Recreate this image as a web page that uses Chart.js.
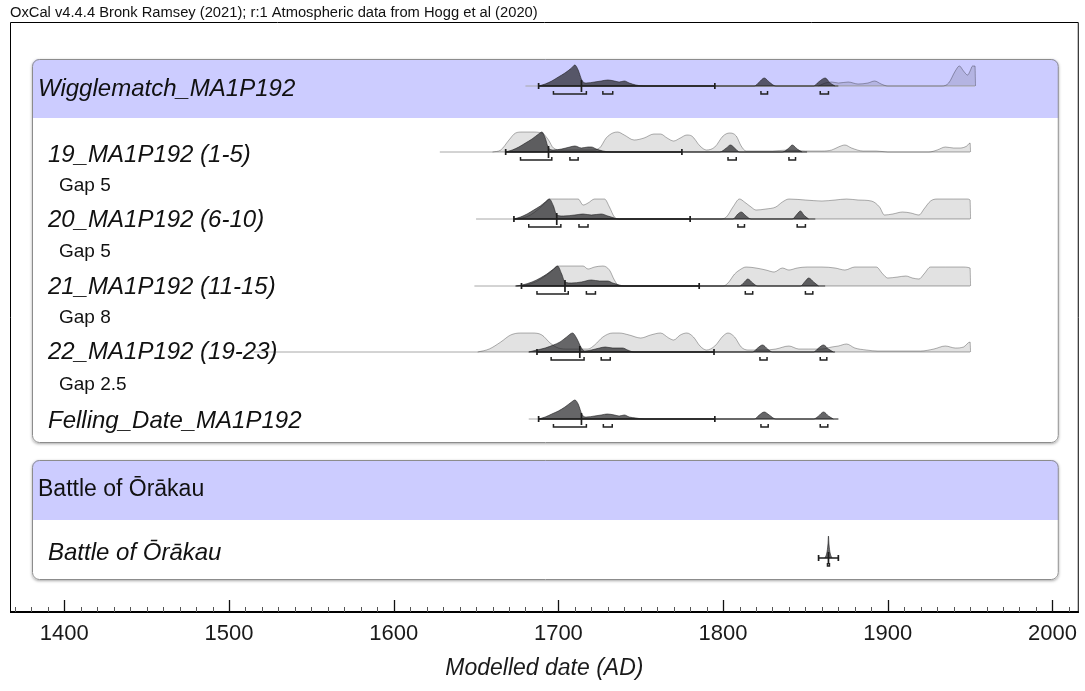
<!DOCTYPE html>
<html>
<head>
<meta charset="utf-8">
<script src="https://cdn.jsdelivr.net/npm/chart.js@4.4.1/dist/chart.umd.min.js"></script>
<style>
  html, body { margin: 0; padding: 0; background: #fff; }
  #wrap { width: 1085px; height: 691px; }
</style>
</head>
<body>
<div id="wrap"><canvas id="grafico" width="1085" height="691"></canvas></div>
<script>
var FONT = '"Liberation Sans", Arial, sans-serif';

// curvas de densidad: [año, altura relativa]
var wmLight = [[1858,0],[1862,3],[1866,4],[1870,3],[1876,4],[1882,2],[1888,3],[1892,5],[1896,2],[1900,0],[1933,0],[1937,3],[1941,15],[1943.5,20],[1946,15],[1948.5,11],[1950,15],[1951.5,20],[1953,20],[1953.3,0]];
var wmDark = [[1688,0],[1692,2],[1696,5],[1700,9],[1704,13],[1708,18],[1710,21],[1712,16],[1714.5,5],[1717,3],[1722,4],[1726,5],[1730,6],[1734,5],[1737,4],[1740,5],[1743,3],[1747,1],[1752,0],[1819,0],[1822,4],[1825,8],[1828,4],[1832,0],[1855,0],[1858,4],[1862,8],[1865,3],[1868,0]];

var r19Light = [[1660,0],[1665,2],[1670,12],[1674,19],[1678,20],[1684,20],[1690,19],[1694,12],[1697,4],[1702,2],[1710,2],[1720,2],[1725,4],[1729,14],[1733,19],[1736,20],[1740,17],[1746,12],[1752,14],[1758,18],[1762,18],[1766,14],[1770,11],[1774,14],[1778,17],[1781,16],[1786,6],[1790,2],[1795,5],[1800,16],[1804,19],[1808,16],[1811,6],[1814,1],[1830,1],[1839,2],[1850,1],[1860,1],[1866,2],[1870,5],[1874,7],[1878,4],[1885,1],[1893,1],[1900,0],[1925,0],[1930,2],[1935,5],[1940,4],[1944,4],[1948,6],[1950,9],[1950.3,0]];
var r19Dark = [[1668,0],[1672,2],[1676,5],[1680,9],[1684,13],[1688,18],[1690,20],[1692,14],[1694,4],[1697,2],[1702,3],[1707,5],[1710,6],[1714,4],[1718,5],[1720,5],[1723,3],[1727,1],[1732,0],[1798,0],[1802,4],[1804.5,7],[1807,4],[1810,0],[1836,0],[1840,4],[1842,7],[1845,3],[1848,0]];

var r20Light = [[1673,0],[1678,1],[1683,4],[1688,10],[1692,16],[1695,20],[1700,20],[1706,20],[1712,20],[1715,14],[1718,16],[1722,20],[1728,20],[1731,12],[1734,2],[1737,0],[1798,0],[1802,2],[1806,12],[1810,20],[1813,17],[1817,12],[1820,9],[1826,10],[1832,12],[1836,17],[1840,20],[1850,19],[1860,18],[1868,19],[1875,20],[1882,19],[1890,18],[1895,12],[1898,4],[1903,5],[1909,7],[1914,6],[1919,4],[1922,10],[1926,18],[1930,20],[1940,20],[1948,20],[1950,19],[1950.3,0]];
var r20Dark = [[1673,0],[1677,2],[1681,5],[1685,9],[1689,13],[1692,17],[1694.5,20],[1697,13],[1699,4],[1703,3],[1710,4],[1715,5],[1720,4],[1726,5],[1730,3],[1734,1],[1737,0],[1806,0],[1809,5],[1811,7],[1814,3],[1817,0],[1842,0],[1845,5],[1847,8],[1849,4],[1852,0]];

var r21Light = [[1675,0],[1680,1],[1686,4],[1692,10],[1696,15],[1700,20],[1704,20],[1710,20],[1715,20],[1718,17],[1722,19],[1727,20],[1731,16],[1734,6],[1737,0],[1800,0],[1803,3],[1807,12],[1810,16],[1814,19],[1820,18],[1826,16],[1831,14],[1836,18],[1840,16],[1845,18],[1851,19],[1860,19],[1868,18],[1874,16],[1880,19],[1893,19],[1897,12],[1900,8],[1906,9],[1911,10],[1915,8],[1919,7],[1922,12],[1926,19],[1935,19],[1945,19],[1950,18],[1950.3,0]];
var r21Dark = [[1674,0],[1678,1],[1684,4],[1689,8],[1693,12],[1697,17],[1699.5,20],[1702,12],[1704,4],[1708,3],[1714,4],[1720,6],[1725,5],[1730,5],[1733,3],[1737,1],[1740,0],[1810,0],[1813,4],[1815,7],[1818,3],[1821,0],[1847,0],[1850,5],[1852,8],[1855,4],[1858,0]];

var r22Light = [[1651,0],[1658,3],[1665,10],[1671,17],[1677,19],[1684,19],[1690,17],[1695,9],[1700,4],[1706,3],[1712,3],[1718,3],[1722,7],[1727,15],[1733,19],[1737,19],[1743,17],[1750,14],[1756,17],[1762,19],[1767,14],[1770,12],[1774,17],[1778,19],[1782,15],[1786,6],[1790,2],[1795,6],[1800,16],[1803,19],[1807,15],[1811,5],[1815,2],[1825,2],[1832,3],[1840,6],[1846,3],[1852,3],[1860,3],[1866,5],[1870,6],[1875,8],[1880,4],[1887,2],[1894,1],[1920,1],[1928,3],[1935,6],[1941,4],[1946,5],[1950,10],[1950.3,0]];
var r22Dark = [[1682,0],[1687,2],[1692,4],[1697,7],[1701,10],[1705,15],[1708.6,19],[1711,14],[1714,4],[1716,1],[1720,2],[1725,4],[1728.5,5],[1733,4],[1739,4],[1742,2],[1746,0],[1818,0],[1821,4],[1824,7],[1827,3],[1830,0],[1855,0],[1858,4],[1861,7],[1864,3],[1867,0]];

var fellDark = [[1688,0],[1692,2],[1696,5],[1700,8],[1704,12],[1708,17],[1710,19],[1712,15],[1714.5,4],[1717,2],[1722,3],[1726,4],[1729.7,5],[1734,4],[1737,3],[1740,4],[1743,2],[1747,1],[1752,0],[1819,0],[1822,4],[1825,7],[1828,4],[1832,0],[1855,0],[1858,3],[1861,7],[1864,3],[1867,0]];

var battleDark = [[1861.8,0],[1863,5],[1863.7,14],[1864,22],[1864.3,14],[1865,5],[1866.2,0]];

// rangos: [inicio, fin], media y corchetes
var wmRange = [1688, 1795], wmMean = 1714;
var r19Range = [1668, 1775], r19Mean = 1694;
var r20Range = [1673, 1780], r20Mean = 1699;
var r21Range = [1677.6, 1785.5], r21Mean = 1704;
var r22Range = [1687, 1794.5], r22Mean = 1713;
var fellRange = [1688, 1795], fellMean = 1714;
var battleRange = [1858, 1870], battleMean = 1864;

var wmBrackets = [[1697,1717],[1727,1733],[1823,1827],[1859,1864]];
var r19Brackets = [[1677,1696],[1707,1712],[1803,1808],[1840,1844]];
var r20Brackets = [[1682,1701.5],[1712.5,1718],[1809,1813],[1845,1850]];
var r21Brackets = [[1687,1706],[1717,1722.5],[1813.5,1818],[1850,1854.5]];
var r22Brackets = [[1695.6,1715.6],[1726,1731.5],[1822.4,1826.7],[1859,1863]];
var fellBrackets = [[1697,1717],[1727.3,1732.7],[1823,1827.4],[1859,1863.6]];
var battleBrackets = [[1863.4,1864.6]];

// extensión de la línea base (clara y oscura)
var wmSpan = [1680, 1953], wmDarkSpan = [1688, 1870];
var r19Span = [1628, 1950], r19DarkSpan = [1668, 1851];
var r20Span = [1650, 1950], r20DarkSpan = [1673, 1856];
var r21Span = [1649, 1950], r21DarkSpan = [1674, 1862];
var r22Span = [1515, 1950], r22DarkSpan = [1682, 1868];
var fellSpan = [1682, 1870], fellDarkSpan = [1688, 1870];

var rowNames = ['Wigglematch_MA1P192', '19_MA1P192 (1-5)', '20_MA1P192 (6-10)', '21_MA1P192 (11-15)', '22_MA1P192 (19-23)', 'Felling_Date_MA1P192', 'Battle of Ōrākau'];
var gapLabels = ['Gap 5', 'Gap 5', 'Gap 8', 'Gap 2.5'];
var groupNames = ['Battle of Ōrākau'];
var headerText = 'OxCal v4.4.4 Bronk Ramsey (2021); r:1 Atmospheric data from Hogg et al (2020)';
var axisTitle = 'Modelled date (AD)';

// posición vertical (px) de cada fila
var baseY = [86, 152, 219, 286, 352, 419, 558];

var rows = [
  { light: wmLight, dark: wmDark, range: wmRange, mean: wmMean, brackets: wmBrackets, span: wmSpan, darkSpan: wmDarkSpan },
  { light: r19Light, dark: r19Dark, range: r19Range, mean: r19Mean, brackets: r19Brackets, span: r19Span, darkSpan: r19DarkSpan },
  { light: r20Light, dark: r20Dark, range: r20Range, mean: r20Mean, brackets: r20Brackets, span: r20Span, darkSpan: r20DarkSpan },
  { light: r21Light, dark: r21Dark, range: r21Range, mean: r21Mean, brackets: r21Brackets, span: r21Span, darkSpan: r21DarkSpan },
  { light: r22Light, dark: r22Dark, range: r22Range, mean: r22Mean, brackets: r22Brackets, span: r22Span, darkSpan: r22DarkSpan },
  { light: null, dark: fellDark, range: fellRange, mean: fellMean, brackets: fellBrackets, span: fellSpan, darkSpan: fellDarkSpan },
  { light: null, dark: battleDark, range: battleRange, mean: battleMean, brackets: battleBrackets, span: null, darkSpan: null }
];

function pts(arr, base) {
  return arr.map(function (p) { return { x: p[0], y: base - p[1] }; });
}

function line(x1, y1, x2, y2) {
  return [{ x: x1, y: y1 }, { x: x2, y: y2 }, { x: x2, y: null }];
}

var datasets = [];
rows.forEach(function (r, i) {
  var b = baseY[i];
  if (r.span) {
    datasets.push({ data: line(r.span[0], b, r.span[1], b), borderColor: '#a8a8a8', borderWidth: 1, order: 6 });
  }
  if (r.darkSpan) {
    datasets.push({ data: line(r.darkSpan[0], b, r.darkSpan[1], b), borderColor: '#707070', borderWidth: 1.5, order: 5 });
  }
  if (r.light) {
    datasets.push({
      data: pts(r.light, b), fill: { value: b }, order: 4,
      backgroundColor: 'rgba(0,0,0,0.115)', borderColor: 'rgba(0,0,0,0.3)', borderWidth: 1,
      cubicInterpolationMode: 'monotone'
    });
  }
  datasets.push({
    data: pts(r.dark, b), fill: { value: b }, order: 3,
    backgroundColor: 'rgba(30,30,32,0.68)', borderColor: 'rgba(30,30,32,0.6)', borderWidth: 1,
    cubicInterpolationMode: 'monotone'
  });
  var s = r.range[0], e = r.range[1], m = r.mean;
  var bar = [].concat(line(s, b, e, b), line(s, b - 3, s, b + 3), line(e, b - 3, e, b + 3), line(m, b - 6, m, b + 6));
  datasets.push({ data: bar, borderColor: '#1e1e1e', borderWidth: 1.7, order: 2 });
  var br = [];
  r.brackets.forEach(function (k) {
    br.push({ x: k[0], y: b + 5 }, { x: k[0], y: b + 8 }, { x: k[1], y: b + 8 }, { x: k[1], y: b + 5 }, { x: k[1], y: null });
  });
  datasets.push({ data: br, borderColor: '#222', borderWidth: 1.5, order: 1 });
});

function roundRect(ctx, x, y, w, h, r) {
  ctx.beginPath();
  ctx.moveTo(x + r, y);
  ctx.arcTo(x + w, y, x + w, y + h, r);
  ctx.arcTo(x + w, y + h, x, y + h, r);
  ctx.arcTo(x, y + h, x, y, r);
  ctx.arcTo(x, y, x + w, y, r);
  ctx.closePath();
}

// cajas de grupo con cabecera lila
var cajas = {
  id: 'cajas',
  beforeDatasetsDraw: function (chart) {
    var ctx = chart.ctx, a = chart.chartArea, ys = chart.scales.y;
    var left = a.left + 22, right = a.right - 20;
    [[59, 118, 443], [460, 520, 580]].forEach(function (bx) {
      var top = ys.getPixelForValue(bx[0]), hdr = ys.getPixelForValue(bx[1]), bot = ys.getPixelForValue(bx[2]);
      ctx.save();
      ctx.shadowColor = 'rgba(0,0,0,0.35)';
      ctx.shadowBlur = 3;
      ctx.shadowOffsetY = 1;
      roundRect(ctx, left, top, right - left, bot - top, 7);
      ctx.fillStyle = '#fff';
      ctx.fill();
      ctx.restore();
      ctx.save();
      roundRect(ctx, left, top, right - left, bot - top, 7);
      ctx.clip();
      ctx.fillStyle = '#ccccff';
      ctx.fillRect(left, top, right - left, hdr - top);
      ctx.restore();
      ctx.save();
      roundRect(ctx, left + 0.5, top + 0.5, right - left - 1, bot - top - 1, 7);
      ctx.strokeStyle = '#8c8c8c';
      ctx.lineWidth = 1;
      ctx.stroke();
      ctx.restore();
    });
  }
};

// nombres de filas, huecos, marco y marcas del eje
var textos = {
  id: 'textos',
  afterDraw: function (chart) {
    var ctx = chart.ctx, a = chart.chartArea, xs = chart.scales.x;
    ctx.save();
    ctx.fillStyle = '#111';
    ctx.textBaseline = 'middle';
    ctx.textAlign = 'left';

    ctx.font = 'italic 24px ' + FONT;
    ctx.fillText(rowNames[0], 38, 89);
    var rowTextY = [155, 220, 287, 352, 421];
    for (var i = 1; i <= 5; i++) ctx.fillText(rowNames[i], 48, rowTextY[i - 1]);
    ctx.fillText(rowNames[6], 48, 553);

    ctx.font = '23px ' + FONT;
    ctx.fillText(groupNames[0], 38, 490);

    ctx.font = '19px ' + FONT;
    var gapY = [186, 252, 318, 385];
    gapLabels.forEach(function (g, k) { ctx.fillText(g, 59, gapY[k]); });

    ctx.font = '12px ' + FONT;
    var w = ctx.measureText(headerText).width;
    ctx.font = (12 * 528 / w).toFixed(2) + 'px ' + FONT;
    ctx.textBaseline = 'alphabetic';
    ctx.fillText(headerText, 10, 17);

    // marco exterior
    ctx.strokeStyle = '#000';
    ctx.lineWidth = 1;
    ctx.beginPath();
    ctx.moveTo(a.left + 0.5, a.bottom);
    ctx.lineTo(a.left + 0.5, a.top + 0.5);
    ctx.lineTo(a.right - 0.5, a.top + 0.5);
    ctx.lineTo(a.right - 0.5, a.bottom);
    ctx.stroke();

    ctx.lineWidth = 2;
    ctx.beginPath();
    ctx.moveTo(a.left, a.bottom - 1);
    ctx.lineTo(a.right, a.bottom - 1);
    ctx.stroke();

    for (var yr = 1370; yr <= 2010; yr += 10) {
      var px = Math.round(xs.getPixelForValue(yr)) + 0.5;
      var major = yr % 100 === 0;
      ctx.strokeStyle = major ? '#111' : '#555';
      ctx.lineWidth = major ? 1.3 : 1;
      ctx.beginPath();
      ctx.moveTo(px, a.bottom - 1);
      ctx.lineTo(px, a.bottom - (major ? 13 : 6));
      ctx.stroke();
    }
    ctx.restore();
  }
};

var ctx = document.getElementById('grafico').getContext('2d');
var chart = new Chart(ctx, {
  type: 'line',
  data: { datasets: datasets },
  options: {
    responsive: false,
    animation: false,
    events: [],
    layout: { padding: { left: 10, right: 4, top: 22, bottom: 0 } },
    elements: { point: { radius: 0 }, line: { tension: 0 } },
    spanGaps: false,
    plugins: { legend: { display: false }, tooltip: { enabled: false } },
    scales: {
      x: {
        type: 'linear',
        min: 1367,
        max: 2016,
        grid: { display: false, drawTicks: false },
        border: { display: false },
        ticks: {
          stepSize: 100,
          includeBounds: false,
          autoSkip: false,
          maxRotation: 0,
          padding: 8,
          color: '#1a1a1a',
          font: { family: FONT, size: 22 },
          callback: function (v) { return v % 100 === 0 ? String(v) : ''; }
        },
        title: {
          display: true,
          text: axisTitle,
          color: '#1a1a1a',
          font: { family: FONT, size: 23, style: 'italic' },
          padding: { top: 0, bottom: 9 }
        },
        afterFit: function (scale) { scale.height = 78; }
      },
      y: {
        type: 'linear',
        display: false,
        reverse: true,
        min: 22,
        max: 613
      }
    }
  },
  plugins: [cajas, textos]
});
</script>
</body>
</html>
